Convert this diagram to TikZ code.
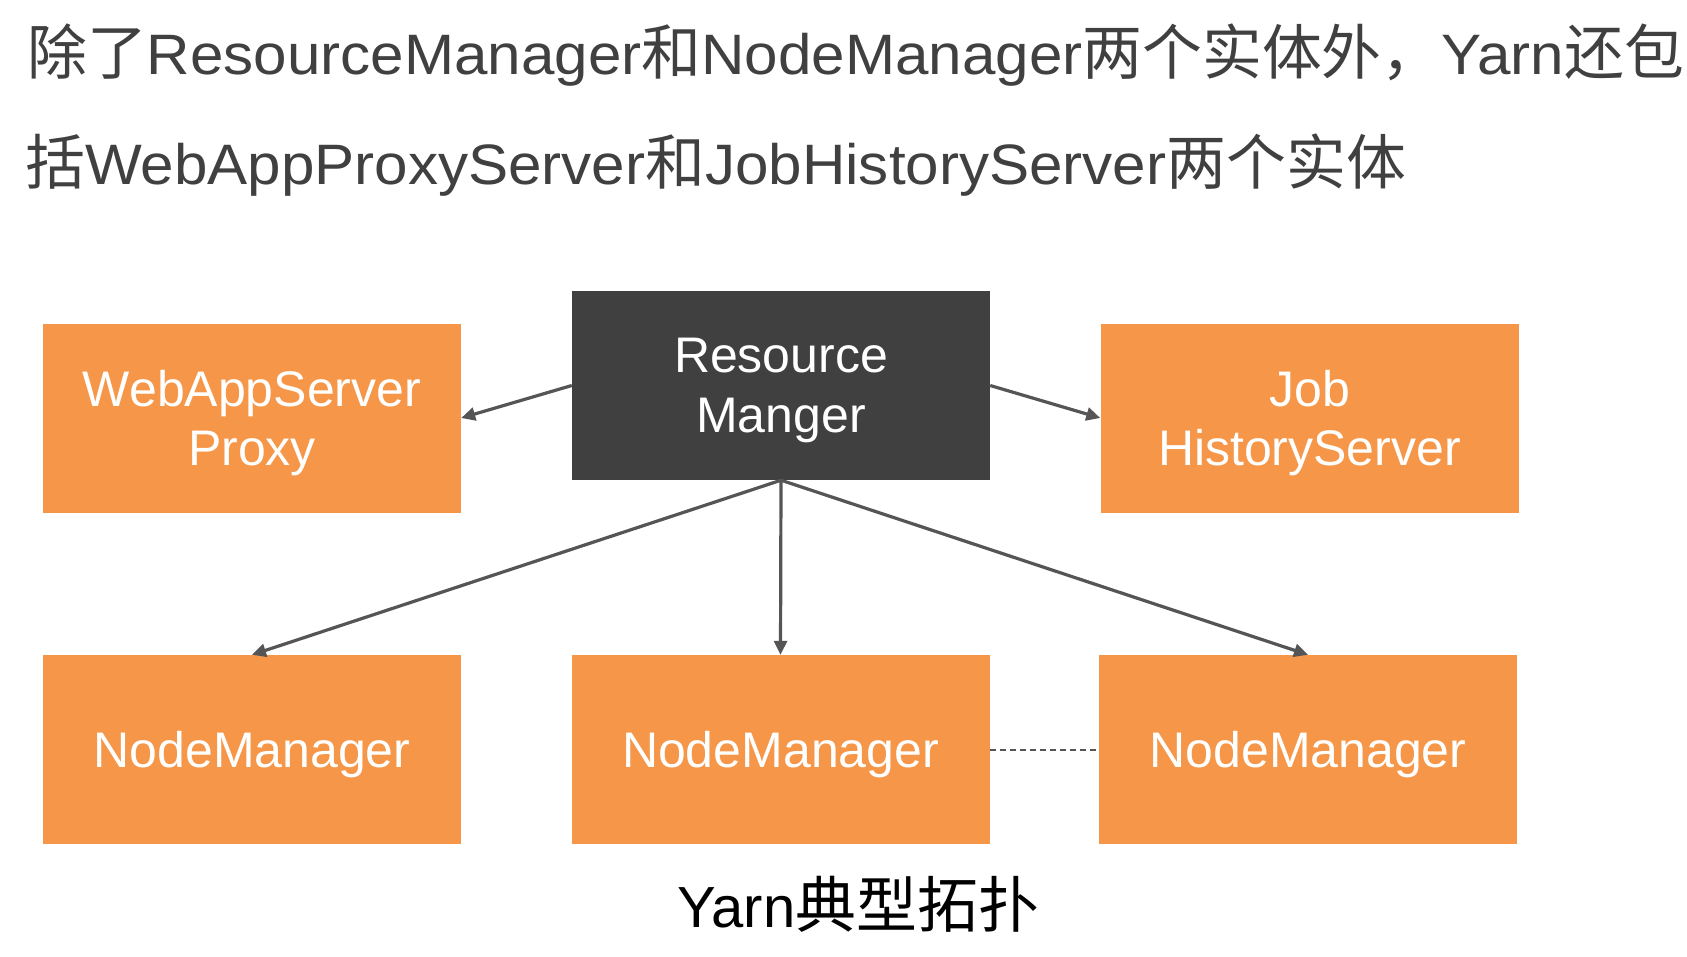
\documentclass[tikz,border=0pt]{standalone}
\usepackage{fontspec}
\setmainfont{Liberation Sans}
\newfontfamily\widefont[FakeStretch=1.055]{Liberation Sans}
\newfontfamily\cjk[Scale=1.05]{Noto Sans CJK SC}
\usetikzlibrary{arrows.meta}
\definecolor{orng}{RGB}{245,150,72}
\definecolor{darkbox}{RGB}{64,64,64}
\definecolor{topgray}{RGB}{64,64,64}
\definecolor{arrgray}{RGB}{85,85,85}
\tikzset{
  box/.style={rectangle, fill=orng, minimum width=418pt, minimum height=189pt, inner sep=0pt,
    text=white, align=center, text depth=0pt, font=\fontsize{50}{59.5}\selectfont},
  rmbox/.style={box, fill=darkbox},
  toptext/.style={anchor=base west, inner sep=0pt, text=topgray, font=\widefont\fontsize{57}{57}\selectfont},
  arr/.style={draw=arrgray, line width=3.2pt, -{Triangle[length=14pt,width=13pt]}, shorten >=0pt},
  dashline/.style={draw=arrgray, line width=2pt, dash pattern=on 6pt off 4pt}
}
\begin{document}
\begin{tikzpicture}[x=1pt,y=-1pt]
\useasboundingbox (0,0) rectangle (1687,956);
\fill[white] (0,0) rectangle (1687,956);
% top description
\node[toptext] (l1) at (27,74) {{\cjk 除了}ResourceManager{\cjk 和}NodeManager{\cjk 两个实体外，}Yarn{\cjk 还包}};
\node[toptext] (l2) at (25,184) {{\cjk 括}WebAppProxyServer{\cjk 和}JobHistoryServer{\cjk 两个实体}};
% boxes
\node[rmbox] (rm) at (781,385.5) {Resource\\Manger};
\node[box] (web) at (252,418) {WebAppServer\\Proxy};
\node[box] (job) at (1309.5,418) {Job\\HistoryServer};
\node[box] (nm1) at (252,749.5) {NodeManager};
\node[box] (nm2) at (780.5,749.5) {NodeManager};
\node[box] (nm3) at (1308,749.5) {NodeManager};
% connectors
\draw[arr] (rm.west) -- (web.east);
\draw[arr] (rm.east) -- (job.west);
\draw[arr] (rm.south) -- (nm1.north);
\draw[arr] (rm.south) -- (nm2.north);
\draw[arr] (rm.south) -- (nm3.north);
\draw[dashline] (nm2.east) -- (nm3.west);
% caption
\node[anchor=base, inner sep=0pt, text=black, font=\fontsize{58}{58}\selectfont] (cap) at (858,927) {Yarn{\cjk 典型拓扑}};
\end{tikzpicture}
\end{document}
